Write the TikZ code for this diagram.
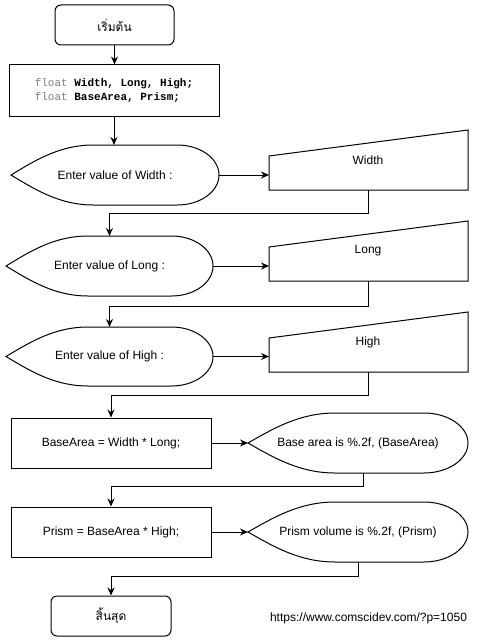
\documentclass[tikz,border=0pt]{standalone}
\usepackage{fontspec}
\setmainfont{Liberation Sans}
\newfontfamily\thaifont[Script=Thai]{Loma}
\newfontfamily\codefont{Liberation Mono}
\usetikzlibrary{arrows.meta,calc}
\definecolor{kwgray}{HTML}{808080}

\newcommand\dispshape[6]{%
  \pgfmathsetmacro\shpL{#2}\pgfmathsetmacro\shpT{#3}%
  \pgfmathsetmacro\shpR{#4}\pgfmathsetmacro\shpB{#5}%
  \pgfmathsetmacro\shpM{(#3+#5)/2}\pgfmathsetmacro\shpC{(#2+#4)/2}%
  \pgfmathsetmacro\shpW{#4-#2}\pgfmathsetmacro\shpH{#5-#3}%
  \pgfmathsetmacro\shpXl{0.395*\shpW}\pgfmathsetmacro\shpXr{0.2*\shpW}%
  \draw[shp] (\shpL,\shpM)
    .. controls ({\shpL+0.3*\shpXl},{\shpT+0.25*\shpH}) and ({\shpL+0.6*\shpXl},\shpT) .. ({\shpL+\shpXl},\shpT)
    -- ({\shpR-\shpXr},\shpT)
    .. controls ({\shpR-0.45*\shpXr},\shpT) and (\shpR,{\shpM-0.275*\shpH}) .. (\shpR,\shpM)
    .. controls (\shpR,{\shpM+0.275*\shpH}) and ({\shpR-0.45*\shpXr},\shpB) .. ({\shpR-\shpXr},\shpB)
    -- ({\shpL+\shpXl},\shpB)
    .. controls ({\shpL+0.6*\shpXl},\shpB) and ({\shpL+0.3*\shpXl},{\shpB-0.25*\shpH}) .. cycle;
  \coordinate (#1-tip) at (\shpL,\shpM);
  \coordinate (#1-e) at (\shpR,\shpM);
  \coordinate (#1-n) at (\shpC,\shpT);
  \coordinate (#1-s) at (\shpC,\shpB);
  \node[txt] (#1) at (\shpC,\shpM) {#6};
}

\newcommand\maninshape[3]{%
  \draw[shp] (269,{#2+26}) -- (468,#2) -- (468,{#2+60}) -- (269,{#2+60}) -- cycle;
  \coordinate (#1-w) at (269,{#2+45});
  \coordinate (#1-s) at (368,{#2+60});
  \node[txt] (#1) at (368,{#2+30}) {#3};
}

\begin{document}
\begin{tikzpicture}[x=1pt,y=-1pt,
  box/.style={draw, line width=1pt, inner sep=0pt, font=\fontsize{12}{14}\selectfont},
  term/.style={box, rounded corners=6pt},
  txt/.style={inner sep=0pt, font=\fontsize{12}{14}\selectfont},
  arr/.style={-{Stealth[length=8pt,width=7pt]}, line width=1pt},
  shp/.style={draw, line width=1pt}]
\useasboundingbox (0,0) rectangle (495,642);
\fill[white] (0,0) rectangle (495,642);

\node[term, minimum width=119pt, minimum height=40pt] (start) at (114.5,25) {\thaifont เริ่มต้น};

\node[box, minimum width=210pt, minimum height=51pt, align=left,
      font=\codefont\fontsize{11}{14}\selectfont] (decl) at (114,90.5)
  {{\color{kwgray}float} \textbf{Width, Long, High;}\\{\color{kwgray}float} \textbf{BaseArea, Prism;}};

\dispshape{d1}{11}{145}{219}{205}{Enter value of Width :}
\dispshape{d2}{6}{236}{213}{296}{Enter value of Long :}
\dispshape{d3}{6}{327}{213}{386}{Enter value of High :}

\maninshape{w1}{130}{Width}
\maninshape{w2}{221}{Long}
\maninshape{w3}{312}{High}

\node[box, minimum width=200pt, minimum height=50pt] (r1) at (111,443) {BaseArea = Width * Long;};
\node[box, minimum width=200pt, minimum height=50pt] (r2) at (111,532) {Prism = BaseArea * High;};

\dispshape{d4}{248}{413}{468}{473}{Base area is \%.2f, (BaseArea)}
\dispshape{d5}{248}{502}{468}{562}{Prism volume is \%.2f, (Prism)}

\node[term, minimum width=120pt, minimum height=40pt] (stop) at (111,616) {\thaifont สิ้นสุด};

\node[txt] (url) at (368.5,618) {https://www.comscidev.com/?p=1050};

\draw[arr] (start.south) -- (start.south |- decl.north);
\draw[arr] (decl.south) -- (decl.south |- d1-n);
\draw[arr] (d1-e) -- (d1-e -| w1-w);
\draw[arr] (w1-s) -- ++(0,23) -| (d2-n);
\draw[arr] (d2-e) -- (d2-e -| w2-w);
\draw[arr] (w2-s) -- ++(0,25) -| (d3-n);
\draw[arr] (d3-e) -- (d3-e -| w3-w);
\draw[arr] (w3-s) -- ++(0,23) -| (r1.north);
\draw[arr] (r1.east) -- (d4-tip);
\draw[arr] ([xshift=5pt]d4-s) -- ++(0,13) -| (r2.north);
\draw[arr] (r2.east) -- (d5-tip);
\draw[arr] (d5-s) -- ++(0,14) -| (stop.north);
\end{tikzpicture}
\end{document}
